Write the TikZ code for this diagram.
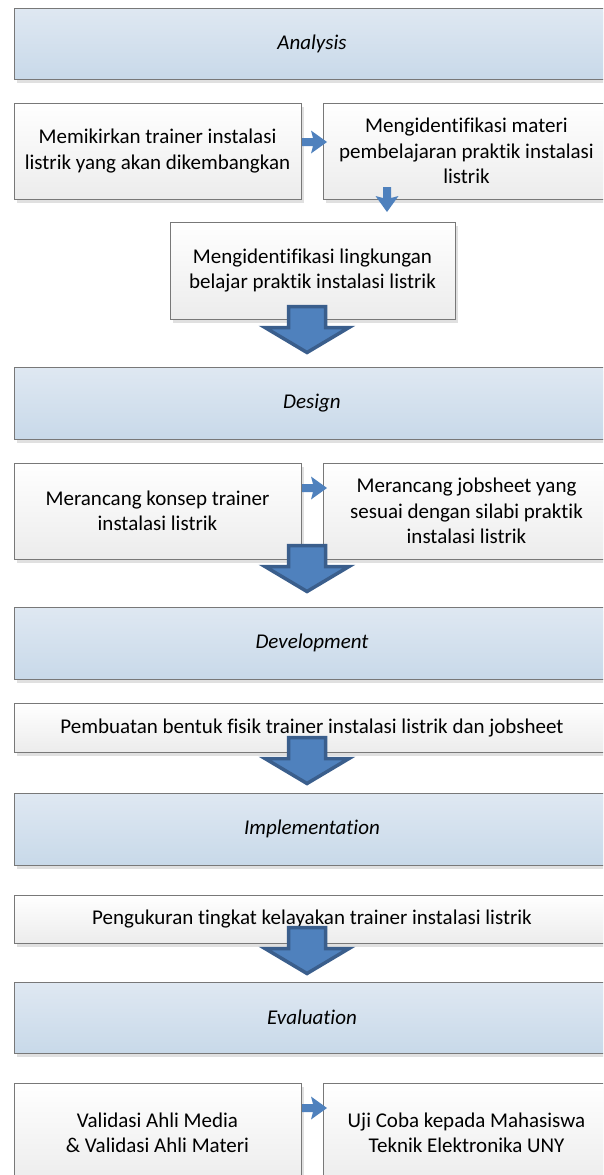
\documentclass[tikz,border=0pt]{standalone}
\usepackage{fontspec}
\setmainfont{Carlito}[Ligatures={NoCommon,NoContextual}]
\usetikzlibrary{shadows}
\definecolor{phtop}{HTML}{DFE8F2}
\definecolor{phbot}{HTML}{C8D9E9}
\definecolor{boxbot}{HTML}{ECECEC}
\definecolor{edge}{HTML}{787878}
\definecolor{arrfill}{HTML}{4F81BD}
\definecolor{arrdraw}{HTML}{3A5E8C}
\tikzset{
  base/.style={draw=edge, line width=1pt, inner sep=0pt, align=center,
    text=black, font=\fontsize{21}{25.5}\selectfont,
    drop shadow={shadow xshift=3pt, shadow yshift=-4pt, fill=black, opacity=0.12}},
  phase/.style={base, top color=phtop, bottom color=phbot,
    font=\fontsize{21}{25.5}\selectfont\itshape},
  stepbox/.style={base, top color=white, bottom color=boxbot},
  bigarrow/.style={fill=arrfill, draw=arrdraw, line width=3.5pt, line join=miter},
  smallarrow/.style={fill=arrfill, draw=none},
}
\newcommand\blockarrow[1]{\draw[bigarrow] ([xshift=-18.5pt,yshift=-1.5pt]#1) -- ++(37pt,0) -- ++(0,-21pt) -- ++(23.5pt,0) -- ++(-42pt,-25pt) -- ++(-42pt,25pt) -- ++(23.5pt,0) -- cycle;}
\newcommand\rarrow[1]{\fill[smallarrow] ([yshift=4pt]#1) -- ++(11pt,0) -- ++(-2pt,7.5pt) -- ++(16pt,-11.5pt) -- ++(-16pt,-11.5pt) -- ++(2pt,7.5pt) -- ++(-11pt,0) -- cycle;}
\newcommand\darrow[1]{\fill[smallarrow] ([xshift=-4pt]#1) -- ++(0,-11pt) -- ++(-7.5pt,2pt) -- ++(11.5pt,-16pt) -- ++(11.5pt,16pt) -- ++(-7.5pt,-2pt) -- ++(0,11pt) -- cycle;}
\begin{document}
\begin{tikzpicture}[x=1pt,y=-1pt]
\useasboundingbox (0,0) rectangle (603,1175);
\clip (0,0) rectangle (603,1175);
% phases and steps
\node[phase, minimum width=596pt, minimum height=71pt] (A) at (312,43.5) {Analysis};
\node[stepbox, minimum width=287pt, minimum height=96pt] (a1) at (157.5,151) {Memikirkan trainer instalasi\\listrik yang akan dikembangkan};
\node[stepbox, minimum width=287pt, minimum height=96pt] (a2) at (466.5,151) {Mengidentifikasi materi\\pembelajaran praktik instalasi\\listrik};
\node[stepbox, minimum width=285pt, minimum height=97pt] (a3) at (312.5,270.5) {Mengidentifikasi lingkungan\\belajar praktik instalasi listrik};
\node[phase, minimum width=596pt, minimum height=72pt] (D) at (312,403) {Design};
\node[stepbox, minimum width=287pt, minimum height=96pt] (d1) at (157.5,511) {Merancang konsep trainer\\instalasi listrik};
\node[stepbox, minimum width=287pt, minimum height=96pt] (d2) at (466.5,511) {Merancang jobsheet yang\\sesuai dengan silabi praktik\\instalasi listrik};
\node[phase, minimum width=596pt, minimum height=72pt] (V) at (312,643) {Development};
\node[stepbox, minimum width=596pt, minimum height=49pt] (v1) at (312,727.5) {Pembuatan bentuk fisik trainer instalasi listrik dan jobsheet};
\node[phase, minimum width=596pt, minimum height=72pt] (I) at (312,829) {Implementation};
\node[stepbox, minimum width=596pt, minimum height=48pt] (i1) at (312,919) {Pengukuran tingkat kelayakan trainer instalasi listrik};
\node[phase, minimum width=596pt, minimum height=71pt] (E) at (312,1017.5) {Evaluation};
\node[stepbox, minimum width=287pt, minimum height=100pt] (e1) at (157.5,1133) {Validasi Ahli Media\\\& Validasi Ahli Materi};
\node[stepbox, minimum width=287pt, minimum height=100pt] (e2) at (466.5,1133) {Uji Coba kepada Mahasiswa\\Teknik Elektronika UNY};
% connector anchors
\coordinate (s1) at (302,142);
\coordinate (s2) at (387,187);
\coordinate (s3) at (302,488);
\coordinate (s4) at (302,1108);
\coordinate (b1) at (307,305);
\coordinate (b2) at (307,544);
\coordinate (b3) at (307,736);
\coordinate (b4) at (307,926);
\rarrow{s1}
\darrow{s2}
\rarrow{s3}
\rarrow{s4}
\blockarrow{b1}
\blockarrow{b2}
\blockarrow{b3}
\blockarrow{b4}
\end{tikzpicture}
\end{document}
